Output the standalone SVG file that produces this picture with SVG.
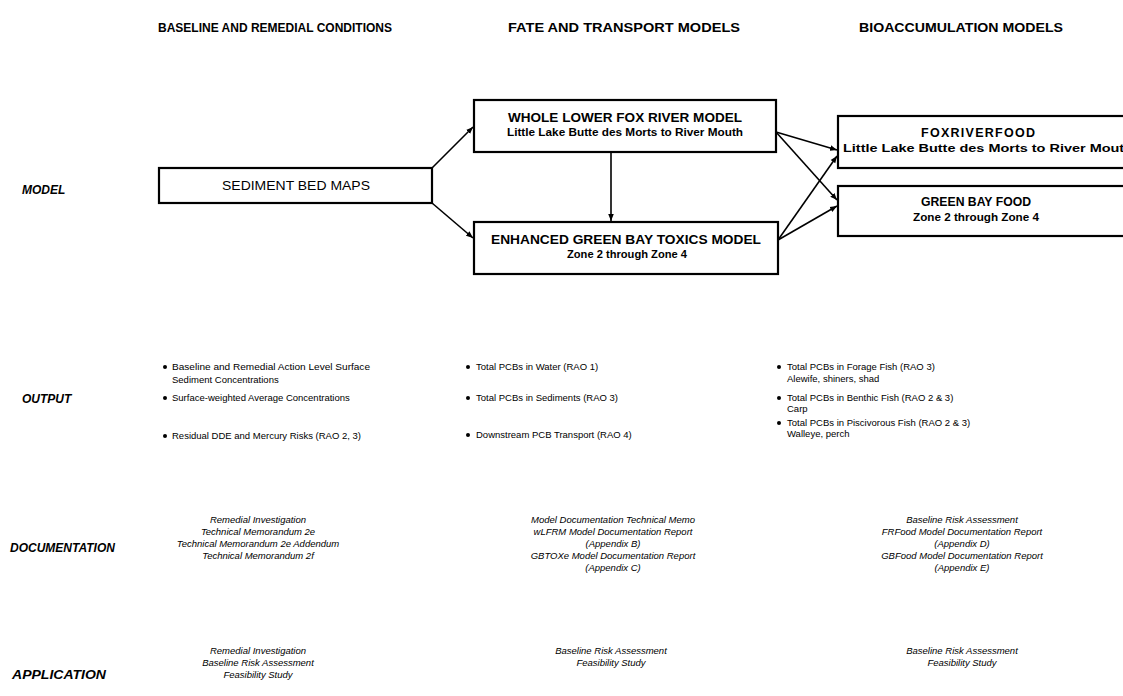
<svg xmlns="http://www.w3.org/2000/svg" width="1123" height="696" viewBox="0 0 1123 696">
<defs>
<marker id="ah" viewBox="0 0 10 10" refX="10" refY="5" markerWidth="7" markerHeight="7" orient="auto" markerUnits="userSpaceOnUse">
<path d="M0,1 L10,5 L0,9 z" fill="#000"/>
</marker>
<style>
text{font-family:"Liberation Sans",Arial,sans-serif;fill:#000}
.hd{font-size:12px;font-weight:bold}
.rl{font-size:12px;font-weight:bold;font-style:italic}
.b1{font-size:12.5px;font-weight:bold;text-anchor:middle}
.b2{font-size:11px;font-weight:bold;text-anchor:middle}
.out{font-size:9.5px}
.doc{font-size:9.5px;font-style:italic;text-anchor:middle}
.box{fill:#fff;stroke:#000;stroke-width:2.2}
.cn{stroke:#000;stroke-width:1.6;fill:none;marker-end:url(#ah)}
</style>
</defs>
<rect width="1123" height="696" fill="#fff"/>

<g id="headers">
<text class="hd" x="158" y="32" textLength="234" lengthAdjust="spacingAndGlyphs">BASELINE AND REMEDIAL CONDITIONS</text>
<text class="hd" x="508" y="32" textLength="232" lengthAdjust="spacingAndGlyphs">FATE AND TRANSPORT MODELS</text>
<text class="hd" x="859" y="32" textLength="204" lengthAdjust="spacingAndGlyphs">BIOACCUMULATION MODELS</text>
</g>

<g id="row-labels">
<text class="rl" x="22" y="194">MODEL</text>
<text class="rl" x="22" y="403">OUTPUT</text>
<text class="rl" x="10" y="552">DOCUMENTATION</text>
<text class="rl" x="12" y="679" textLength="94" lengthAdjust="spacingAndGlyphs">APPLICATION</text>
</g>

<g id="sediment-bed-maps">
<rect class="box" x="159" y="168" width="273" height="35"/>
<text x="296" y="190" style="font-size:12.5px;text-anchor:middle" textLength="148" lengthAdjust="spacingAndGlyphs">SEDIMENT BED MAPS</text>
</g>

<g id="whole-lower-fox-river-model">
<rect class="box" x="474" y="100" width="302" height="52"/>
<text class="b1" x="625" y="122" textLength="234" lengthAdjust="spacingAndGlyphs">WHOLE LOWER FOX RIVER MODEL</text>
<text class="b2" x="625" y="136" textLength="236" lengthAdjust="spacingAndGlyphs">Little Lake Butte des Morts to River Mouth</text>
</g>

<g id="enhanced-green-bay-toxics-model">
<rect class="box" x="474" y="222" width="304" height="52"/>
<text class="b1" x="626" y="244" textLength="270" lengthAdjust="spacingAndGlyphs">ENHANCED GREEN BAY TOXICS MODEL</text>
<text class="b2" x="627" y="258" textLength="120" lengthAdjust="spacingAndGlyphs">Zone 2 through Zone 4</text>
</g>

<g id="foxriverfood">
<rect class="box" x="838" y="116" width="300" height="52"/>
<text class="b1" x="978" y="137" textLength="114" lengthAdjust="spacing">FOXRIVERFOOD</text>
<text x="843" y="152" style="font-size:11px;font-weight:bold" textLength="290" lengthAdjust="spacingAndGlyphs">Little Lake Butte des Morts to River Mouth</text>
</g>

<g id="green-bay-food">
<rect class="box" x="838" y="186" width="300" height="50"/>
<text class="b1" x="976" y="206" textLength="110" lengthAdjust="spacingAndGlyphs">GREEN BAY FOOD</text>
<text class="b2" x="976" y="221" textLength="126" lengthAdjust="spacingAndGlyphs">Zone 2 through Zone 4</text>
</g>

<g id="connectors">
<line class="cn" x1="432" y1="168" x2="473" y2="127"/>
<line class="cn" x1="432" y1="203" x2="473" y2="238"/>
<line class="cn" x1="611" y1="152" x2="611" y2="221"/>
<line class="cn" x1="776" y1="132" x2="837" y2="150"/>
<line class="cn" x1="776" y1="132" x2="837" y2="200"/>
<line class="cn" x1="778" y1="240" x2="837" y2="156"/>
<line class="cn" x1="778" y1="240" x2="837" y2="206"/>
</g>

<g id="output-baseline">
<circle cx="165" cy="367" r="2"/>
<text class="out" x="172" y="370" textLength="198" lengthAdjust="spacingAndGlyphs">Baseline and Remedial Action Level Surface</text>
<text class="out" x="172" y="383">Sediment Concentrations</text>
<circle cx="165" cy="398" r="2"/>
<text class="out" x="172" y="401">Surface-weighted Average Concentrations</text>
<circle cx="165" cy="436" r="2"/>
<text class="out" x="172" y="439">Residual DDE and Mercury Risks (RAO 2, 3)</text>
</g>

<g id="output-fate">
<circle cx="468" cy="367" r="2"/>
<text class="out" x="476" y="370">Total PCBs in Water (RAO 1)</text>
<circle cx="468" cy="398" r="2"/>
<text class="out" x="476" y="401">Total PCBs in Sediments (RAO 3)</text>
<circle cx="468" cy="435" r="2"/>
<text class="out" x="476" y="438">Downstream PCB Transport (RAO 4)</text>
</g>

<g id="output-bioaccumulation">
<circle cx="779" cy="367" r="2"/>
<text class="out" x="787" y="370">Total PCBs in Forage Fish (RAO 3)</text>
<text class="out" x="787" y="382">Alewife, shiners, shad</text>
<circle cx="779" cy="398" r="2"/>
<text class="out" x="787" y="401">Total PCBs in Benthic Fish (RAO 2 &amp; 3)</text>
<text class="out" x="787" y="412">Carp</text>
<circle cx="779" cy="423" r="2"/>
<text class="out" x="787" y="426">Total PCBs in Piscivorous Fish (RAO 2 &amp; 3)</text>
<text class="out" x="787" y="437">Walleye, perch</text>
</g>

<g id="documentation">
<text class="doc" x="258" y="523">Remedial Investigation</text>
<text class="doc" x="258" y="535">Technical Memorandum 2e</text>
<text class="doc" x="258" y="547">Technical Memorandum 2e Addendum</text>
<text class="doc" x="258" y="559">Technical Memorandum 2f</text>
<text class="doc" x="613" y="523">Model Documentation Technical Memo</text>
<text class="doc" x="613" y="535">wLFRM Model Documentation Report</text>
<text class="doc" x="613" y="547">(Appendix B)</text>
<text class="doc" x="613" y="559">GBTOXe Model Documentation Report</text>
<text class="doc" x="613" y="571">(Appendix C)</text>
<text class="doc" x="962" y="523">Baseline Risk Assessment</text>
<text class="doc" x="962" y="535">FRFood Model Documentation Report</text>
<text class="doc" x="962" y="547">(Appendix D)</text>
<text class="doc" x="962" y="559">GBFood Model Documentation Report</text>
<text class="doc" x="962" y="571">(Appendix E)</text>
</g>

<g id="application">
<text class="doc" x="258" y="654">Remedial Investigation</text>
<text class="doc" x="258" y="666">Baseline Risk Assessment</text>
<text class="doc" x="258" y="678">Feasibility Study</text>
<text class="doc" x="611" y="654">Baseline Risk Assessment</text>
<text class="doc" x="611" y="666">Feasibility Study</text>
<text class="doc" x="962" y="654">Baseline Risk Assessment</text>
<text class="doc" x="962" y="666">Feasibility Study</text>
</g>
</svg>
